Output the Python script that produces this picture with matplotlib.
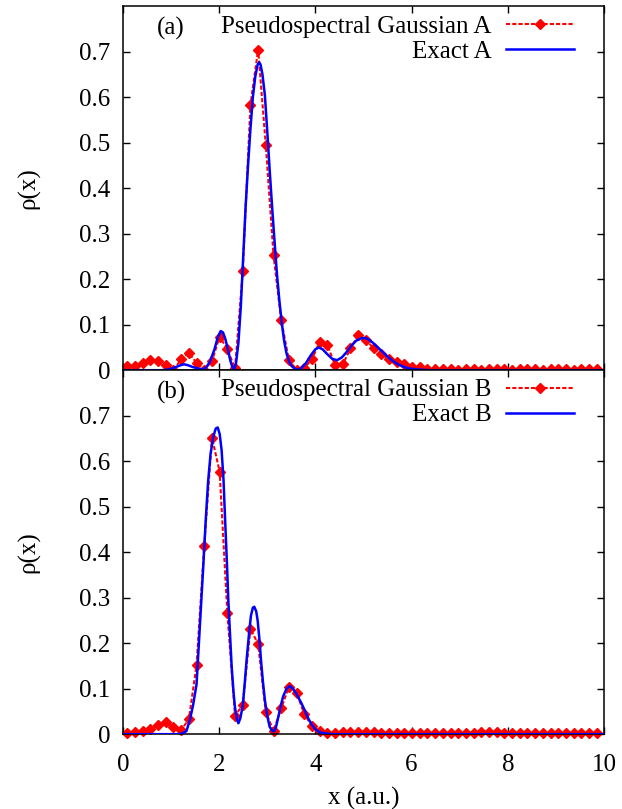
import numpy as np
import matplotlib
matplotlib.use("Agg")
import matplotlib.pyplot as plt

plt.rcParams['font.family'] = ['Liberation Serif', 'DejaVu Serif']

# pseudospectral grid
x_grid = np.linspace(0.09, 9.85, 62)

gauss_a = [0.009, 0.010, 0.016, 0.022, 0.021, 0.011, 0.000, 0.024, 0.038, 0.016,
           0.001, 0.020, 0.074, 0.046, 0.004,
           0.217, 0.583, 0.705, 0.494, 0.253, 0.110,
           0.022, 0.001, 0.005, 0.024, 0.063, 0.055, 0.011, 0.013, 0.048, 0.077,
           0.067, 0.048, 0.035, 0.025, 0.019, 0.014, 0.008,
           0.006, 0.003, 0.002, 0.002, 0.002, 0.001, 0.002, 0.002, 0.001, 0.002,
           0.002, 0.002, 0.001, 0.002, 0.002, 0.002, 0.001, 0.002, 0.002, 0.002,
           0.001, 0.002, 0.002, 0.002]

gauss_b = [0.003, 0.004, 0.007, 0.011, 0.020, 0.026, 0.015, 0.009, 0.033,
           0.152, 0.414, 0.652, 0.577, 0.266, 0.041, 0.064, 0.232, 0.198,
           0.048, 0.007, 0.057, 0.104, 0.091, 0.044, 0.018, 0.007,
           0.002, 0.003, 0.004, 0.004, 0.005, 0.005, 0.004, 0.003, 0.003, 0.002,
           0.002, 0.002, 0.002, 0.002, 0.002, 0.002, 0.002, 0.002, 0.003, 0.003,
           0.004, 0.004, 0.004, 0.003, 0.003, 0.002, 0.002, 0.002, 0.002, 0.002,
           0.002, 0.002, 0.002, 0.002, 0.002, 0.002]

# exact densities
exact_a_x = [0.0, 0.8, 0.9, 1.0, 1.1, 1.2, 1.27, 1.35, 1.45, 1.55, 1.65, 1.72, 1.80,
             1.90, 1.97, 2.03, 2.08, 2.13, 2.18, 2.23, 2.27, 2.31, 2.35, 2.40, 2.45,
             2.50, 2.55, 2.60, 2.65, 2.70, 2.75, 2.80, 2.83, 2.86, 2.90, 2.95, 3.00,
             3.05, 3.10, 3.15, 3.20, 3.25, 3.30, 3.35, 3.40, 3.45, 3.50, 3.55, 3.60,
             3.65, 3.70, 3.80, 3.90, 4.00, 4.07, 4.15, 4.25, 4.35, 4.45, 4.55, 4.65,
             4.75, 4.85, 4.95, 5.03, 5.10, 5.20, 5.30, 5.40, 5.50, 5.60, 5.70, 5.80,
             5.90, 6.00, 6.20, 6.40, 10.0]
exact_a = [0.0, 0.0, 0.001, 0.003, 0.007, 0.011, 0.013, 0.011, 0.007, 0.004, 0.002,
           0.005, 0.017, 0.045, 0.072, 0.086, 0.083, 0.068, 0.046, 0.022, 0.008,
           0.001, 0.015, 0.06, 0.14, 0.25, 0.36, 0.45, 0.53, 0.60, 0.645, 0.672,
           0.677, 0.672, 0.65, 0.605, 0.525, 0.44, 0.36, 0.285, 0.213, 0.155, 0.105,
           0.065, 0.037, 0.02, 0.01, 0.005, 0.002, 0.001, 0.004, 0.015, 0.032,
           0.046, 0.050, 0.046, 0.035, 0.025, 0.022, 0.028, 0.040, 0.054, 0.065,
           0.070, 0.071, 0.068, 0.060, 0.050, 0.040, 0.030, 0.021, 0.014, 0.009,
           0.005, 0.003, 0.001, 0.0, 0.0]

exact_b_x = [0.0, 1.15, 1.25, 1.32, 1.39, 1.46, 1.53, 1.60, 1.67, 1.72, 1.77, 1.82,
             1.88, 1.93, 1.97, 2.01, 2.05, 2.09, 2.12, 2.16, 2.19, 2.23, 2.26, 2.30,
             2.33, 2.37, 2.40, 2.44, 2.49, 2.53, 2.57, 2.62, 2.66, 2.70, 2.73, 2.77,
             2.80, 2.84, 2.87, 2.91, 2.95, 3.00, 3.05, 3.10, 3.14, 3.18, 3.23, 3.28,
             3.33, 3.40, 3.47, 3.54, 3.61, 3.71, 3.78, 3.85, 3.92, 3.99, 4.06, 4.13,
             4.25, 4.40, 10.0]
exact_b = [0.0, 0.0, 0.002, 0.007, 0.031, 0.065, 0.11, 0.24, 0.37, 0.47, 0.555,
           0.615, 0.655, 0.672, 0.674, 0.66, 0.625, 0.56, 0.48, 0.38, 0.295, 0.21,
           0.148, 0.09, 0.058, 0.032, 0.024, 0.035, 0.062, 0.11, 0.163, 0.22, 0.26,
           0.278, 0.28, 0.27, 0.25, 0.205, 0.162, 0.115, 0.075, 0.04, 0.016, 0.008,
           0.006, 0.015, 0.038, 0.062, 0.083, 0.100, 0.106, 0.099, 0.088, 0.068,
           0.052, 0.035, 0.022, 0.012, 0.006, 0.003, 0.001, 0.0, 0.0]

panels = [
    ('(a)', gauss_a, 'Pseudospectral Gaussian A', exact_a_x, exact_a, 'Exact A'),
    ('(b)', gauss_b, 'Pseudospectral Gaussian B', exact_b_x, exact_b, 'Exact B'),
]

fig = plt.figure(figsize=(6.22, 8.09), dpi=100)
rects = [[0.1977, 0.5424, 0.7733, 0.4498], [0.1977, 0.0925, 0.7733, 0.4499]]

for k, (tag, pts, lab_p, ex_x, ex_y, lab_e) in enumerate(panels):
    ax = fig.add_axes(rects[k])
    ax.plot(x_grid, pts, color='#ff0000', lw=1.5, ls=(0, (2, 1)),
            marker='D', ms=5.3, mec='#ff0000', mfc='#ff0000',
            clip_on=False, zorder=2, label=lab_p)
    ax.plot(ex_x, ex_y, color='#0000ff', lw=1.8, zorder=3, label=lab_e)

    ax.set_xlim(0, 10)
    ax.set_ylim(0, 0.8)
    ax.set_xticks([0, 2, 4, 6, 8, 10])
    ax.set_yticks([0, 0.1, 0.2, 0.3, 0.4, 0.5, 0.6, 0.7])
    ax.set_yticklabels(['0', '0.1', '0.2', '0.3', '0.4', '0.5', '0.6', '0.7'])
    ax.tick_params(direction='in', length=5, width=1, top=True, right=True,
                   labelsize=18)
    ax.tick_params(axis='y', pad=9)
    ax.tick_params(axis='x', pad=14)
    for s in ax.spines.values():
        s.set_linewidth(1.1)
    if k == 0:
        ax.tick_params(labelbottom=False)
    else:
        ax.set_xlabel('x (a.u.)', fontsize=18)
        ax.xaxis.set_label_coords(0.5, -0.145)

    ax.set_ylabel('ρ(x)', fontsize=18)
    ax.yaxis.set_label_coords(-0.172, 0.5)

    ax.text(0.1, 0.94, tag, transform=ax.transAxes, fontsize=18,
            ha='center', va='center')

    leg = ax.legend(loc='upper right', bbox_to_anchor=(0.9376, 0.976),
                    frameon=False, fontsize=18, markerfirst=False, numpoints=1,
                    handlelength=2.7, handletextpad=0.6, labelspacing=0.1,
                    borderaxespad=0, borderpad=0)
    leg._legend_handle_box.get_children()[0].align = 'right'

fig.savefig('out.png', dpi=100)
